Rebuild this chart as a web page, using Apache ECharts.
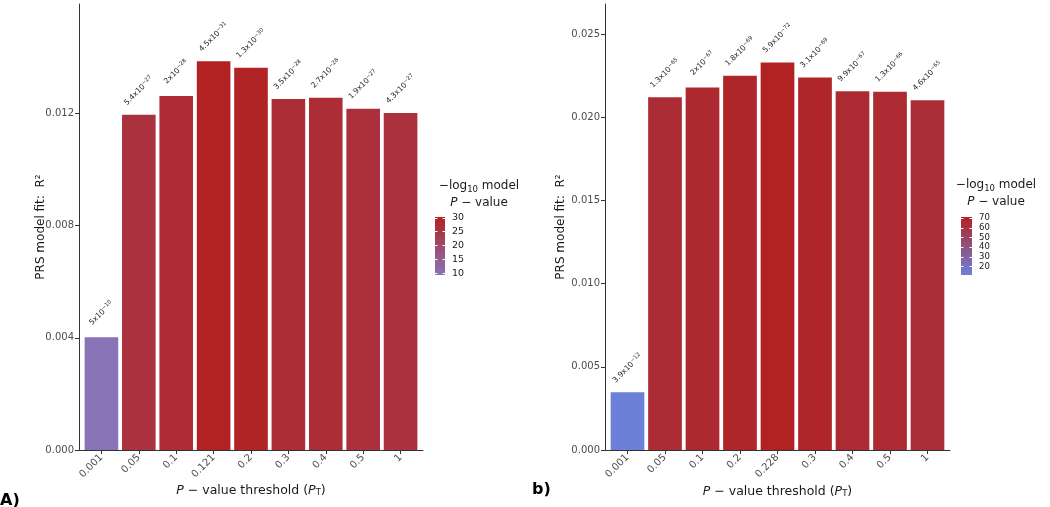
<!DOCTYPE html>
<html><head><meta charset="utf-8">
<script src="https://cdn.jsdelivr.net/npm/echarts@6/dist/echarts.min.js"></script>
<style>html,body{margin:0;padding:0;background:#fff}#c{width:1050px;height:507px}</style>
</head><body><div id="c"></div>
<script>
// ---- data: panel A ----
const leftCategories = ['0.001','0.05','0.1','0.121','0.2','0.3','0.4','0.5','1'];
const leftR2 = [0.00402,0.01195,0.01262,0.01386,0.01363,0.01251,0.01256,0.01217,0.01201];
const leftPMant = ['5','5.4','2','4.5','1.3','3.5','2.7','1.9','4.3'];
const leftPExp = [10,27,28,31,30,28,28,27,27];
const leftYTicks = [0,0.004,0.008,0.012];
const leftLegendTicks = [10,15,20,25,30];
// ---- data: panel b ----
const rightCategories = ['0.001','0.05','0.1','0.2','0.228','0.3','0.4','0.5','1'];
const rightR2 = [0.00347,0.02119,0.02179,0.02249,0.02329,0.02239,0.02156,0.02153,0.02102];
const rightPMant = ['3.9','1.3','2','1.8','5.9','3.1','9.9','1.3','4.6'];
const rightPExp = [12,65,67,69,72,69,67,66,65];
const rightYTicks = [0,0.005,0.010,0.015,0.020,0.025];
const rightLegendTicks = [20,30,40,50,60,70];

const FONT = 'DejaVu Sans';
const AXIS = '#333333';
const TICKTXT = '#4d4d4d';

function negLog(mants, exps){ return mants.map((m,i)=> -(Math.log10(parseFloat(m)) - exps[i])); }

function buildPanel(p){
  const logp = negLog(p.mant, p.exp);
  const vmin = Math.min(...logp), vmax = Math.max(...logp);
  const pos = p.cats.map((c,i)=>i+1);
  const out = {};
  out.grids = [
    {left:p.left, top:4, width:p.width, height:446},
    {left:p.legX, top:217, width:p.legW, height:58, show:true, borderWidth:0,
     backgroundColor:{type:'linear',x:0,y:0,x2:0,y2:1,colorStops:[{offset:0,color:p.high},{offset:1,color:p.low}]}}
  ];
  out.xAxes = [
    {type:'value', min:0.4, max:9.6,
     axisLine:{show:true,onZero:false,lineStyle:{color:AXIS,width:1}},
     axisTick:{show:true,customValues:pos,length:4,lineStyle:{color:AXIS}},
     axisLabel:{show:true,customValues:pos,formatter:v=>p.cats[Math.round(v)-1],rotate:45,fontSize:10,color:TICKTXT,margin:6,fontFamily:FONT},
     splitLine:{show:false},
     name:'{i|P} − value threshold ({i|P}{t|T})', nameLocation:'middle', nameGap:p.xGap, nameMoveOverlap:false,
     nameTextStyle:{fontSize:12.5,color:'#1a1a1a',fontFamily:FONT,
       rich:{i:{fontStyle:'italic',fontSize:12.5,color:'#1a1a1a'},t:{fontSize:8.5,lineHeight:7,verticalAlign:'bottom',color:'#1a1a1a'}}}},
    {type:'category', data:[''], show:false}
  ];
  out.yAxes = [
    {type:'value', min:0, max:p.ymax,
     axisLine:{show:true,lineStyle:{color:AXIS,width:1}},
     axisTick:{show:true,customValues:p.yticks,length:4,lineStyle:{color:AXIS}},
     axisLabel:{show:true,customValues:p.yticks,formatter:v=>v.toFixed(3),fontSize:10,color:TICKTXT,margin:5,fontFamily:FONT},
     splitLine:{show:false},
     name:'PRS model fit:  R²', nameLocation:'middle', nameGap:p.yGap, nameRotate:90, nameMoveOverlap:false,
     nameTextStyle:{fontSize:12,color:'#1a1a1a',fontFamily:FONT}},
    {type:'value', min:vmin, max:vmax, position:'right',
     axisLine:{show:false},
     axisTick:{show:true,inside:true,customValues:p.legTicks,length:2.5,lineStyle:{color:'#ffffff',width:1}},
     axisLabel:{show:true,customValues:p.legTicks,fontSize:p.legFont,color:'#1a1a1a',margin:p.legMargin,fontFamily:FONT},
     splitLine:{show:false}},
    {type:'value', min:vmin, max:vmax, position:'left',
     axisLine:{show:false},
     axisTick:{show:true,inside:true,customValues:p.legTicks,length:2.5,lineStyle:{color:'#ffffff',width:1}},
     axisLabel:{show:false}, splitLine:{show:false}}
  ];
  out.series = {
    type:'bar', barWidth:p.barW,
    data:p.cats.map((c,i)=>[i+1, p.r2[i], logp[i]]),
    label:{show:true, position:['50%',-24], rotate:45, align:'center', verticalAlign:'middle',
      formatter:(d)=>'{b|'+p.mant[d.dataIndex]+'x10}{s|−'+p.exp[d.dataIndex]+'}',
      rich:{b:{fontSize:7.5,lineHeight:10,color:'#1a1a1a',fontFamily:FONT},
            s:{fontSize:5.5,lineHeight:4,verticalAlign:'top',color:'#1a1a1a',fontFamily:FONT}}}
  };
  out.visualMap = {type:'continuous', show:false, dimension:2, min:vmin, max:vmax,
    inRange:{color:[p.low,p.high]}};
  out.graphic = [
    {type:'text', x:p.legTitleX, y:p.legTitleY, style:{text:'{n|−log}{s|10}{n| model}', align:'center', verticalAlign:'middle',
      rich:{n:{fontSize:12,fontFamily:FONT,fill:'#1a1a1a',lineHeight:16},s:{fontSize:8.5,fontFamily:FONT,fill:'#1a1a1a',lineHeight:8,verticalAlign:'bottom'}}}},
    {type:'text', x:p.legTitleX, y:p.legTitleY+17, style:{text:'{i|P}{n| − value}', align:'center', verticalAlign:'middle',
      rich:{n:{fontSize:12,fontFamily:FONT,fill:'#1a1a1a'},i:{fontSize:12,fontFamily:FONT,fontStyle:'italic',fill:'#1a1a1a'}}}},
    {type:'text', x:p.tagX, y:p.tagY, style:{text:p.tag, fontSize:16, fontWeight:'bold', fontFamily:FONT, fill:'#000', verticalAlign:'middle'}}
  ];
  return out;
}

const A = buildPanel({cats:leftCategories, r2:leftR2, mant:leftPMant, exp:leftPExp, yticks:leftYTicks, legTicks:leftLegendTicks,
  left:79, width:344, ymax:0.0159, barW:33.6, low:'#8a72b7', high:'#b22222', legX:435, legW:10, legFont:9.5, legMargin:7,
  xGap:34, yGap:32, legTitleX:479, legTitleY:186, tag:'A)', tagX:0, tagY:501});
const B = buildPanel({cats:rightCategories, r2:rightR2, mant:rightPMant, exp:rightPExp, yticks:rightYTicks, legTicks:rightLegendTicks,
  left:605, width:345, ymax:0.0268, barW:33.7, low:'#6c80d9', high:'#b22222', legX:961, legW:11, legFont:8.5, legMargin:7,
  xGap:35, yGap:38, legTitleX:996, legTitleY:185, tag:'b)', tagX:532, tagY:490});

// grid order: [A main, B main, A legend, B legend]
const grids = [A.grids[0], B.grids[0], A.grids[1], B.grids[1]];
const xAxes = [A.xAxes[0], B.xAxes[0], A.xAxes[1], B.xAxes[1]];
xAxes.forEach((a,i)=>{a.gridIndex=i;});
const yAxes = [A.yAxes[0], B.yAxes[0], A.yAxes[1], A.yAxes[2], B.yAxes[1], B.yAxes[2]];
[0,1,2,2,3,3].forEach((gi,i)=>{yAxes[i].gridIndex=gi;});
A.series.xAxisIndex=0; A.series.yAxisIndex=0;
B.series.xAxisIndex=1; B.series.yAxisIndex=1;
A.visualMap.seriesIndex=0; B.visualMap.seriesIndex=1;

const chart = echarts.init(document.getElementById('c'), null, {renderer:'canvas'});
chart.setOption({
  animation:false,
  backgroundColor:'#ffffff',
  textStyle:{fontFamily:FONT},
  grid:grids, xAxis:xAxes, yAxis:yAxes,
  visualMap:[A.visualMap, B.visualMap],
  series:[A.series, B.series],
  graphic:A.graphic.concat(B.graphic)
});
</script></body></html>
